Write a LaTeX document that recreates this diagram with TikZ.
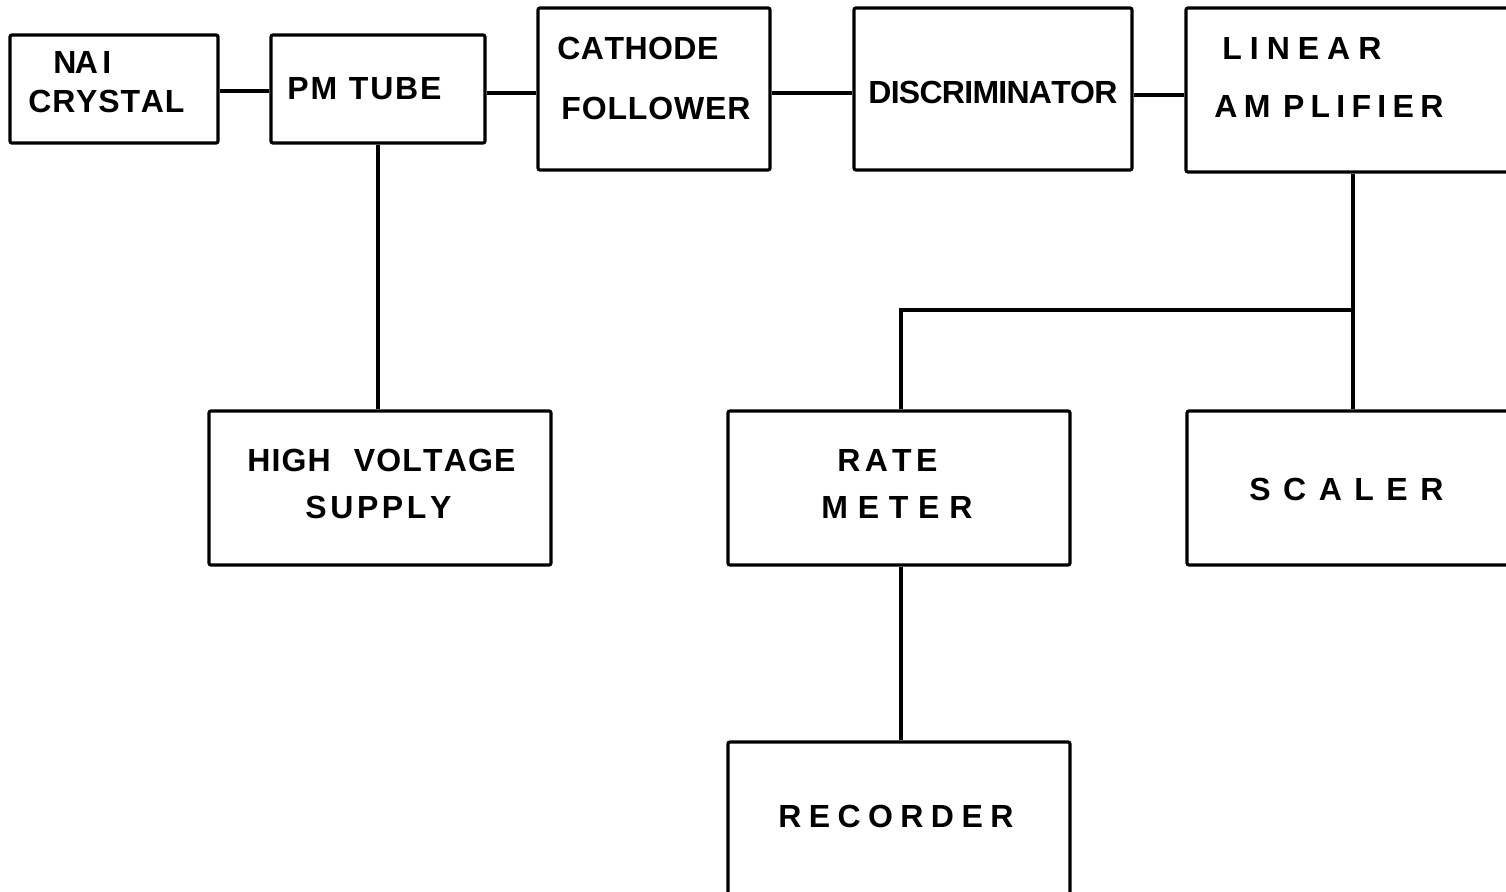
\documentclass[tikz,border=0pt]{standalone}
\usepackage{fontspec}
\setmainfont{Liberation Sans}
\usetikzlibrary{fit}
\def\g{\hskip 0pt plus 1fil minus 1pt}
\newcommand{\spreadline}[2]{\makebox[#1][s]{#2}}
\tikzset{
  box/.style={draw, line width=1.6pt, rounded corners=1pt, inner sep=0pt},
  lbl/.style={anchor=base west, inner sep=0pt, font=\fontsize{16}{18}\bfseries\selectfont},
  wire/.style={line width=1.6pt}
}
\begin{document}
\begin{tikzpicture}[x=0.5pt,y=-0.5pt]
\useasboundingbox (0,0) rectangle (1506,892);
\clip (0,0) rectangle (1506,892);
% boxes
\node[box, fit={(10,35) (218,143)}] (nai) {};
\node[box, fit={(271,35) (485,143)}] (pm) {};
\node[box, fit={(538,8) (770,170)}] (cf) {};
\node[box, fit={(854,8) (1132,170)}] (disc) {};
\node[box, fit={(1186,8) (1520,172)}] (lin) {};
\node[box, fit={(209,411) (551,565)}] (hv) {};
\node[box, fit={(728,411) (1070,565)}] (rm) {};
\node[box, fit={(1187,411) (1519,565)}] (sc) {};
\node[box, fit={(728,742) (1070,930)}] (rec) {};
% labels
\node[lbl] (t1) at (53,74) {\spreadline{29pt}{N\g A\hspace{3pt}\g I}};
\node[lbl] (t2) at (28,113) {\spreadline{78pt}{C\g R\g Y\g S\g T\g A\g L}};
\node[lbl] (t3) at (287,100) {\spreadline{77pt}{P\g M\hspace{5pt}\g T\g U\g B\g E}};
\node[lbl] (t4) at (557,60) {\spreadline{80.5pt}{C\g A\g T\g H\g O\g D\g E}};
\node[lbl] (t5) at (561,120) {\spreadline{94.5pt}{F\g O\g L\g L\g O\g W\g E\g R}};
\node[lbl] (t6) at (868,104) {\spreadline{124.5pt}{D\g I\g S\g C\g R\g I\g M\g I\g N\g A\g T\g O\g R}};
\node[lbl] (t7) at (1222,60) {\spreadline{79.5pt}{L\g I\g N\g E\g A\g R}};
\node[lbl] (t8) at (1214,118) {\spreadline{114.5pt}{A\g M\g\g P\g L\g I\g F\g I\g E\g R}};
\node[lbl] (t9) at (247,472) {\spreadline{134pt}{H\g I\g G\g H\hspace{11pt}\g V\g O\g L\g T\g A\g G\g E}};
\node[lbl] (t10) at (305,519) {\spreadline{73pt}{S\g U\g P\g P\g L\g Y}};
\node[lbl] (t11) at (837,472) {\spreadline{50pt}{R\g A\g T\g E}};
\node[lbl] (t12) at (821,519) {\spreadline{75.5pt}{M\g E\g T\g E\g R}};
\node[lbl] (t13) at (1249,501) {\spreadline{97pt}{S\g C\g A\g L\g E\g R}};
\node[lbl] (t14) at (778,828) {\spreadline{117.5pt}{R\g E\g C\g O\g R\g D\g E\g R}};
% connectors
\draw[wire] ([yshift=-1pt]nai.east) -- ([yshift=-1pt]pm.west);
\draw[wire] ([yshift=-2pt]pm.east) -- ([yshift=-2pt]pm.east -| cf.west);
\draw[wire] ([yshift=-2pt]cf.east) -- ([yshift=-2pt]disc.west);
\draw[wire] ([yshift=-3pt]disc.east) -- ([yshift=-3pt]disc.east -| lin.west);
\draw[wire] (pm.south) -- (pm.south |- hv.north);
\draw[wire] (lin.south) -- (sc.north);
\coordinate (br) at (1353,310);
\draw[wire] (br) -| ([xshift=1pt]rm.north);
\draw[wire] ([xshift=1pt]rm.south) -- ([xshift=1pt]rec.north);
\end{tikzpicture}
\end{document}
